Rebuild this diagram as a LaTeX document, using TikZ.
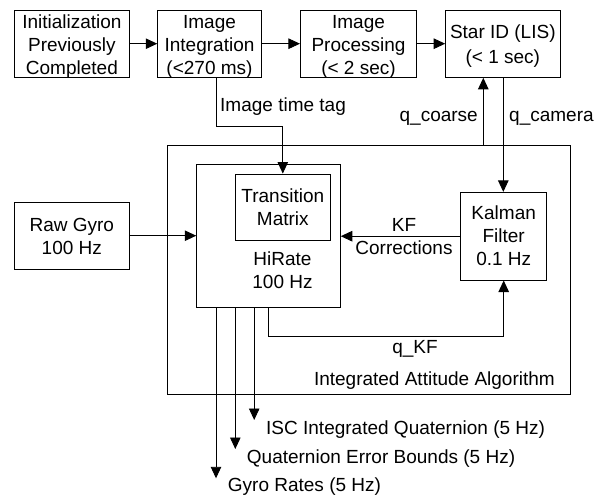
\documentclass[tikz,border=0pt]{standalone}
\usepackage{fontspec}
\setmainfont{Liberation Sans}
\usetikzlibrary{arrows.meta}
\begin{document}
\begin{tikzpicture}[x=1pt,y=-1pt,
  every node/.style={font=\fontsize{19}{23}\selectfont, inner sep=0pt},
  blk/.style={draw, line width=0.9pt, align=center},
  txt/.style={align=center},
  arr/.style={line width=0.9pt, -{Triangle[length=11.5pt,width=10.5pt]}},
  ln/.style={line width=0.9pt}]
\useasboundingbox (0,0) rectangle (604,498);
% top row
\node[blk, minimum width=114.3pt, minimum height=67.3pt] (init) at (71.9,43.7) {};
\node[txt] (initt) at ([yshift=-3pt]init.center) {Initialization\\Previously\\Completed};
\node[blk, minimum width=103.6pt, minimum height=67.3pt] (integ) at (209.5,43.7) {};
\node[txt] (integt) at ([yshift=-3pt]integ.center) {Image\\Integration\\(<270 ms)};
\node[blk, minimum width=116.2pt, minimum height=67.3pt] (proc) at (358.5,43.7) {};
\node[txt] (proct) at ([yshift=-3pt]proc.center) {Image\\Processing\\(< 2 sec)};
\node[blk, minimum width=114.3pt, minimum height=67.3pt] (star) at (502.8,43.7) {};
\node[txt] (start) at ([yshift=-2.5pt]star.center) {Star ID (LIS)\\[2pt](< 1 sec)};
% big box
\node[blk, minimum width=402.3pt, minimum height=249pt] (iaa) at (368.85,269.5) {};
\node[anchor=east] (iaal) at (555,381) {Integrated Attitude Algorithm};
% middle
\node[blk, minimum width=115pt, minimum height=66.7pt] (gyro) at (71.8,235.7) {};
\node[txt] (gyrot) at ([yshift=-1pt]gyro.center) {Raw Gyro\\100 Hz};
\node[blk, minimum width=143.6pt, minimum height=143pt] (hirate) at (268.5,235.8) {};
\node[blk, minimum width=95.7pt, minimum height=66pt] (trans) at (282.8,207) {Transition\\Matrix};
\node[txt] (hrtxt) at (282.5,270) {HiRate\\100 Hz};
\node[blk, minimum width=86pt, minimum height=87.7pt] (kal) at (503.7,236.2) {Kalman\\Filter\\0.1 Hz};
% top arrows
\draw[arr] (init) -- (integ);
\draw[arr] (integ) -- (proc);
\draw[arr] (proc) -- (star);
% image time tag
\coordinate (tt) at (216,126);
\draw[arr] (integ.south -| tt) -- (tt) -- (tt -| trans.north) -- (trans.north);
\node[anchor=west] (ttl) at (220,107) {Image time tag};
% q_coarse / q_camera
\coordinate (qc) at (483.3,100);
\coordinate (qm) at (503.3,100);
\draw[arr] (iaa.north -| qc) -- (star.south -| qc);
\draw[arr] (star.south -| qm) -- (kal.north -| qm);
\node[anchor=east] (qcl) at (478,118) {q\_coarse};
\node[anchor=west] (qml) at (509,118) {q\_camera};
% gyro and KF
\draw[arr] (gyro.east) -- (gyro.east -| hirate.west);
\draw[arr] (kal.west) -- (kal.west -| hirate.east);
\node[txt] (kfl) at (404,236.5) {KF\\Corrections};
% q_KF
\coordinate (qk) at (268.5,336.5);
\draw[arr] (hirate.south -| qk) -- (qk) -- (qk -| kal.south) -- (kal.south);
\node (qkl) at (415,349) {q\_KF};
% outputs
\coordinate (o1) at (216,478.3);
\coordinate (o2) at (235.3,449);
\coordinate (o3) at (254.2,420);
\draw[arr] (hirate.south -| o1) -- (o1);
\draw[arr] (hirate.south -| o2) -- (o2);
\draw[arr] (hirate.south -| o3) -- (o3);
\node[anchor=west] (o3l) at (266,429.3) {ISC Integrated Quaternion (5 Hz)};
\node[anchor=west] (o2l) at (246.7,458.3) {Quaternion Error Bounds (5 Hz)};
\node[anchor=west] (o1l) at (227.7,486.7) {Gyro Rates (5 Hz)};
\end{tikzpicture}
\end{document}
